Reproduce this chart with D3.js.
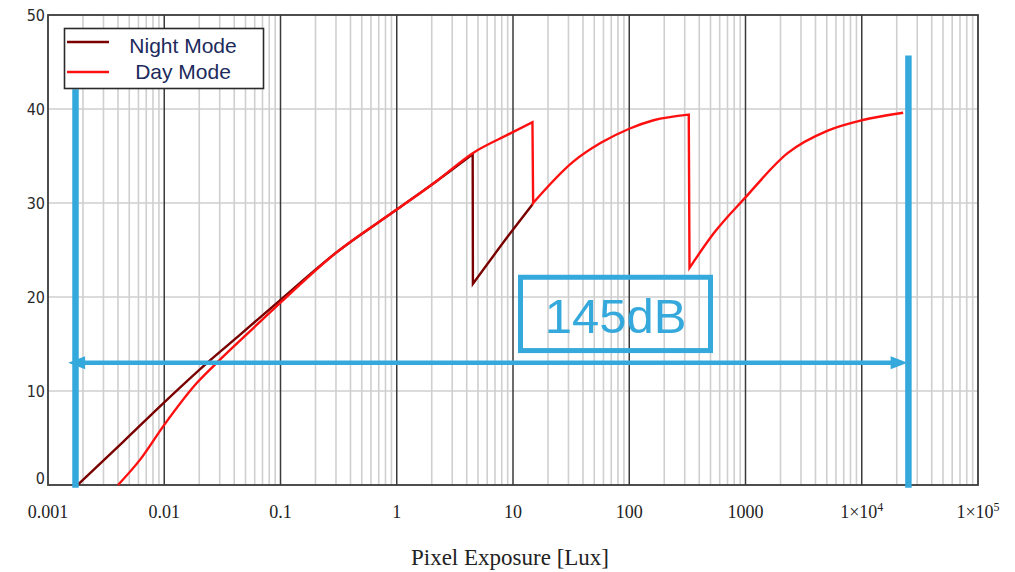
<!DOCTYPE html>
<html>
<head>
<meta charset="utf-8">
<script src="https://cdn.jsdelivr.net/npm/d3@7"></script>
<style>
  body { margin: 0; background: #fff; }
</style>
</head>
<body>
<div id="chart"></div>
<script>
// Series: [lux, value]
const nightMode = [
    [0.0018, 0], [0.00443, 4.6], [0.01, 8.8], [0.0234, 13.0], [0.045, 16.0],
    [0.1, 19.7], [0.3, 24.7], [1, 29.3], [2.24, 32.4], [4.5, 35.2],
    [4.52, 21.4], [9.5, 26.8], [14.8, 29.9]
];
const dayMode = [
    [0.004, 0], [0.0062, 2.7], [0.01, 6.4], [0.0192, 10.9], [0.03, 13.3],
    [0.048, 15.7], [0.1, 19.4], [0.3, 24.7], [1, 29.3], [2.24, 32.4],
    [4.5, 35.3], [9.5, 37.4], [14.7, 38.6], [14.9, 30.0], [33, 34.4],
    [57, 36.4], [100, 37.9], [162, 38.8], [325, 39.4], [330, 23.1],
    [535, 26.8], [1000, 30.6], [2300, 35.3], [5100, 37.7], [1e4, 38.8],
    [22700, 39.6]
];

const xTicks = [0.001, 0.01, 0.1, 1, 10, 100, 1000, 1e4, 1e5];
const xTickLabels = ["0.001", "0.01", "0.1", "1", "10", "100", "1000", "1×10|4", "1×10|5"];
const yTicks = [0, 10, 20, 30, 40, 50];
const legendNames = ["Night Mode", "Day Mode"];

// 145dB annotation, in data units
const rangeLines = [[0.001724, -0.3, 42.1], [25200, -0.3, 45.7]];  // x, y bottom, y top
const arrowEnds = [0.00149, 24800];
const arrowLevel = 13;
const boxCorners = [[11.6, 22.1], [500, 14.3]];
const boxLabel = "145dB";

let margin = {top: 15, right: 37, bottom: 87, left: 48},
    width = 1015 - margin.left - margin.right,
    height = 572 - margin.top - margin.bottom;

let svg = d3.select("#chart").append("svg")
    .attr("width", 1015)
    .attr("height", 572);

let g = svg.append("g")
    .attr("transform", "translate(" + margin.left + "," + margin.top + ")");

let x = d3.scaleLog().domain([0.001, 1e5]).range([0, width]);
let y = d3.scaleLinear().domain([0, 50]).range([height, 0]);

const blue = "#36a9dc";

// minor grid (2..9 in each decade)
let minor = x.ticks().filter(function (d) {
    return xTicks.indexOf(d) < 0;
});
g.selectAll(".minor")
    .data(minor)
    .enter().append("line")
    .attr("x1", d => x(d)).attr("x2", d => x(d))
    .attr("y1", 0).attr("y2", height)
    .attr("stroke", "#cfcfcf")
    .attr("stroke-width", 1.6);

g.selectAll(".hgrid")
    .data(yTicks.slice(1, -1))
    .enter().append("line")
    .attr("x1", 0).attr("x2", width)
    .attr("y1", d => y(d)).attr("y2", d => y(d))
    .attr("stroke", "#cfcfcf")
    .attr("stroke-width", 1.6);

// decade grid
g.selectAll(".major")
    .data(xTicks.slice(1, -1))
    .enter().append("line")
    .attr("x1", d => x(d)).attr("x2", d => x(d))
    .attr("y1", 0).attr("y2", height)
    .attr("stroke", "#3a3a3a")
    .attr("stroke-width", 1.5);

// frame
g.append("rect")
    .attr("width", width).attr("height", height)
    .attr("fill", "none")
    .attr("stroke", "#3a3a3a")
    .attr("stroke-width", 1.8);

// y axis labels
let yAxis = g.append("g")
    .call(d3.axisLeft(y).tickValues(yTicks).tickSize(0).tickPadding(3));
yAxis.select(".domain").remove();
yAxis.selectAll("text")
    .attr("font-family", "'DejaVu Sans Condensed', 'DejaVu Sans', sans-serif")
    .attr("font-size", 16)
    .attr("fill", "#2a2a2a")
    .attr("dy", d => d === 0 ? "-0.1em" : "0.32em");

// x axis labels
let xLabels = g.selectAll(".xlab")
    .data(xTicks)
    .enter().append("text")
    .attr("x", d => x(d))
    .attr("y", height + 33)
    .attr("text-anchor", "middle")
    .attr("font-family", "'Liberation Serif', serif")
    .attr("font-size", 18)
    .attr("fill", "#222");
xLabels.each(function (d, i) {
    let parts = xTickLabels[i].split("|");
    let t = d3.select(this);
    t.append("tspan").text(parts[0]);
    if (parts[1]) {
        t.append("tspan").attr("dy", -7).attr("font-size", 12).text(parts[1]);
    }
});

g.append("text")
    .attr("x", width / 2 - 3)
    .attr("y", height + 80)
    .attr("text-anchor", "middle")
    .attr("font-family", "'Liberation Serif', serif")
    .attr("font-size", 23)
    .attr("fill", "#222")
    .text("Pixel Exposure [Lux]");

// curves: smooth between the sudden drops, straight down at each drop
let smooth = d3.line()
    .x(d => x(d[0]))
    .y(d => y(d[1]))
    .curve(d3.curveMonotoneX);

function curvePath(data) {
    let runs = [[data[0]]];
    for (let i = 1; i < data.length; i++) {
        if (data[i][0] / data[i - 1][0] < 1.05) runs.push([]);
        runs[runs.length - 1].push(data[i]);
    }
    return runs.map((r, i) => {
        let p = smooth(r);
        return i === 0 ? p : "L" + p.slice(1);
    }).join("");
}

g.append("path")
    .attr("d", curvePath(nightMode))
    .attr("fill", "none")
    .attr("stroke", "#7a0000")
    .attr("stroke-width", 2.4);

g.append("path")
    .attr("d", curvePath(dayMode))
    .attr("fill", "none")
    .attr("stroke", "#ff1010")
    .attr("stroke-width", 2.4);

// 145dB annotation
g.selectAll(".range")
    .data(rangeLines)
    .enter().append("line")
    .attr("x1", d => x(d[0])).attr("x2", d => x(d[0]))
    .attr("y1", d => y(d[1])).attr("y2", d => y(d[2]))
    .attr("stroke", blue)
    .attr("stroke-width", 6.5);

let ax0 = x(arrowEnds[0]), ax1 = x(arrowEnds[1]), ay = y(arrowLevel);
g.append("line")
    .attr("x1", ax0 + 10).attr("x2", ax1 - 10)
    .attr("y1", ay).attr("y2", ay)
    .attr("stroke", blue)
    .attr("stroke-width", 4.5);
g.append("path")
    .attr("d", "M" + ax0 + "," + ay + "L" + (ax0 + 17) + "," + (ay - 6.5) + "L" + (ax0 + 17) + "," + (ay + 6.5) + "Z")
    .attr("fill", blue);
g.append("path")
    .attr("d", "M" + ax1 + "," + ay + "L" + (ax1 - 17) + "," + (ay - 6.5) + "L" + (ax1 - 17) + "," + (ay + 6.5) + "Z")
    .attr("fill", blue);

let bx0 = x(boxCorners[0][0]), by0 = y(boxCorners[0][1]),
    bx1 = x(boxCorners[1][0]), by1 = y(boxCorners[1][1]);
g.append("rect")
    .attr("x", bx0).attr("y", by0)
    .attr("width", bx1 - bx0).attr("height", by1 - by0)
    .attr("fill", "none")
    .attr("stroke", blue)
    .attr("stroke-width", 5);
g.append("text")
    .attr("x", (bx0 + bx1) / 2)
    .attr("y", by1 - 18)
    .attr("text-anchor", "middle")
    .attr("font-family", "'Liberation Sans', Arial, sans-serif")
    .attr("font-size", 49)
    .attr("fill", blue)
    .text(boxLabel);

// legend
let legend = svg.append("g");
legend.append("rect")
    .attr("x", 64.5).attr("y", 28.5)
    .attr("width", 199).attr("height", 60)
    .attr("fill", "#fff")
    .attr("stroke", "#2a2a2a")
    .attr("stroke-width", 1.6);
let legendColors = ["#7a0000", "#ff1010"];
legendNames.forEach(function (name, i) {
    let ly = 42 + i * 30;
    legend.append("line")
        .attr("x1", 67).attr("x2", 109)
        .attr("y1", ly).attr("y2", ly)
        .attr("stroke", legendColors[i])
        .attr("stroke-width", 2.4);
    legend.append("text")
        .attr("x", 183)
        .attr("y", 53 + i * 26)
        .attr("text-anchor", "middle")
        .attr("font-family", "'Liberation Sans', Arial, sans-serif")
        .attr("font-size", 21)
        .attr("fill", "#1c2a5c")
        .text(name);
});
</script>
</body>
</html>
